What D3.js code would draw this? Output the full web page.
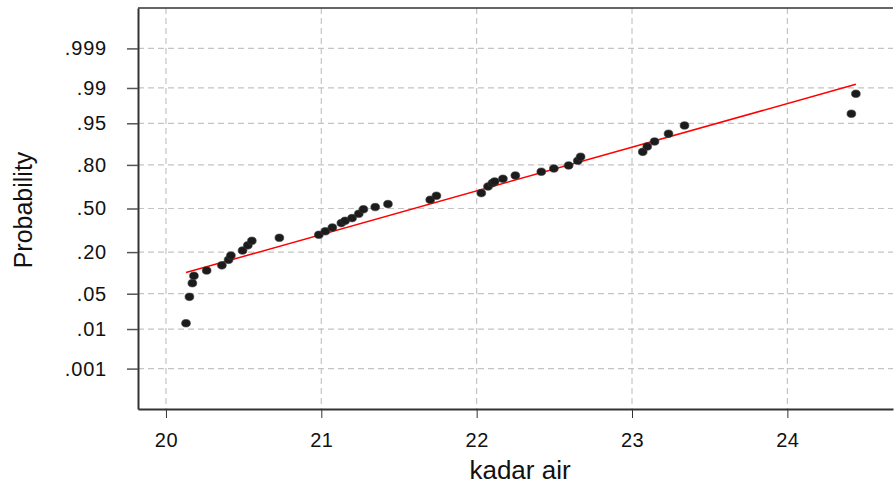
<!DOCTYPE html>
<html><head><meta charset="utf-8">
<script src="https://cdn.jsdelivr.net/npm/d3@7"></script>
<style>body{margin:0;background:#fff}svg{display:block}text{font-family:"Liberation Sans",Arial,sans-serif}</style>
</head><body><svg id="c" width="896" height="489"></svg>
<script>
// kadar air values (x)
const kadarAir = [20.129,20.151,20.170,20.180,20.262,20.360,20.403,20.418,20.493,20.527,20.553,20.730,
  20.984,21.026,21.071,21.129,21.153,21.198,21.241,21.271,21.347,21.429,21.701,21.741,
  22.030,22.073,22.101,22.116,22.169,22.249,22.416,22.497,22.592,22.651,22.669,
  23.069,23.098,23.145,23.235,23.338,24.412,24.441];
// cumulative probability of each point
const probability = [0.0134,0.0441,0.0748,0.0968,0.1156,0.1363,0.1609,0.182,0.2087,0.2386,0.2663,0.2857,
  0.3057,0.33,0.3568,0.389,0.406,0.4266,0.4593,0.494,0.511,0.534,0.567,0.597,
  0.617,0.6645,0.688,0.699,0.717,0.738,0.761,0.780,0.797,0.8215,0.841,
  0.863,0.8844,0.902,0.9255,0.9455,0.9663,0.9866];
const xTicks = [20,21,22,23,24];
const yTickValues = [0.001,0.01,0.05,0.20,0.50,0.80,0.95,0.99,0.999];
const yTickLabels = [".001",".01",".05",".20",".50",".80",".95",".99",".999"];
// fitted normal line (mean, sd)
const fitMean = 21.596, fitSd = 1.187;

function probit(p){
  const a=[-3.969683028665376e+01,2.209460984245205e+02,-2.759285104469687e+02,1.383577518672690e+02,-3.066479806614716e+01,2.506628277459239e+00];
  const b=[-5.447609879822406e+01,1.615858368580409e+02,-1.556989798598866e+02,6.680131188771972e+01,-1.328068155288572e+01];
  const c=[-7.784894002430293e-03,-3.223964580411365e-01,-2.400758277161838e+00,-2.549732539343734e+00,4.374664141464968e+00,2.938163982698783e+00];
  const d=[7.784695709041462e-03,3.224671290700398e-01,2.445134137142996e+00,3.754408661907416e+00];
  const pl=0.02425;let q,r;
  if(p<pl){q=Math.sqrt(-2*Math.log(p));return (((((c[0]*q+c[1])*q+c[2])*q+c[3])*q+c[4])*q+c[5])/((((d[0]*q+d[1])*q+d[2])*q+d[3])*q+1);}
  if(p<=1-pl){q=p-0.5;r=q*q;return (((((a[0]*r+a[1])*r+a[2])*r+a[3])*r+a[4])*r+a[5])*q/(((((b[0]*r+b[1])*r+b[2])*r+b[3])*r+b[4])*r+1);}
  q=Math.sqrt(-2*Math.log(1-p));return -(((((c[0]*q+c[1])*q+c[2])*q+c[3])*q+c[4])*q+c[5])/((((d[0]*q+d[1])*q+d[2])*q+d[3])*q+1);
}

const L=138,R=893,T=8,B=409;
const x=d3.scaleLinear().domain([19.82,24.68]).range([L,R]);
const y=d3.scaleLinear().domain([-3.87,3.87]).range([B,T]);
const svg=d3.select("#c");

// grid
const g=svg.append("g");
g.selectAll(".gx").data(xTicks).join("line").attr("x1",d=>x(d)).attr("x2",d=>x(d)).attr("y1",T).attr("y2",B)
 .attr("stroke","#c4c4c4").attr("stroke-width",1.2).attr("stroke-dasharray","6,4");
g.selectAll(".gy").data(yTickValues).join("line").attr("x1",L).attr("x2",R).attr("y1",d=>y(probit(d))).attr("y2",d=>y(probit(d)))
 .attr("stroke","#c4c4c4").attr("stroke-width",1.2).attr("stroke-dasharray","6,4");

// axes
const xAxis=d3.axisBottom(x).tickValues(xTicks).tickFormat(d3.format("d")).tickSize(9).tickSizeOuter(0);
const ax=svg.append("g").attr("transform",`translate(0,${B})`).call(xAxis);
ax.select(".domain").attr("stroke","#333").attr("stroke-width",2);
ax.selectAll(".tick line").attr("stroke","#333").attr("stroke-width",1);
ax.selectAll(".tick text").attr("font-size",20).attr("fill","#111").attr("y",24).attr("dy","0.71em").attr("letter-spacing",0.5);

const yAxis=d3.axisLeft(y).tickValues(yTickValues.map(probit)).tickFormat((d,i)=>yTickLabels[i]).tickSize(11).tickSizeOuter(0);
const ay=svg.append("g").attr("transform",`translate(${L},0)`).call(yAxis);
ay.select(".domain").attr("stroke","#333").attr("stroke-width",2);
ay.selectAll(".tick line").attr("stroke","#555").attr("stroke-width",1.5);
ay.selectAll(".tick text").attr("font-size",20).attr("fill","#111").attr("x",-31).attr("letter-spacing",0.8);

// top border
svg.append("line").attr("x1",L).attr("x2",R).attr("y1",T).attr("y2",T).attr("stroke","#333").attr("stroke-width",1.5);

// fit line
const xmin=d3.min(kadarAir),xmax=d3.max(kadarAir);
svg.append("line").attr("x1",x(xmin)).attr("x2",x(xmax))
 .attr("y1",y((xmin-fitMean)/fitSd)).attr("y2",y((xmax-fitMean)/fitSd))
 .attr("stroke","#ff0000").attr("stroke-width",1.5);

// points
svg.append("g").selectAll("ellipse").data(kadarAir).join("ellipse")
 .attr("cx",d=>x(d)).attr("cy",(d,i)=>y(probit(probability[i])))
 .attr("rx",4.4).attr("ry",3.8).attr("fill","#1c1c1c").attr("stroke","#3a3a3a").attr("stroke-width",0.6);

// titles
svg.append("text").attr("x",520).attr("y",479).attr("text-anchor","middle").attr("font-size",26).attr("fill","#111").text("kadar air");
svg.append("text").attr("transform","translate(32,210) rotate(-90)").attr("text-anchor","middle").attr("font-size",25).attr("fill","#111").text("Probability");
</script></body></html>
